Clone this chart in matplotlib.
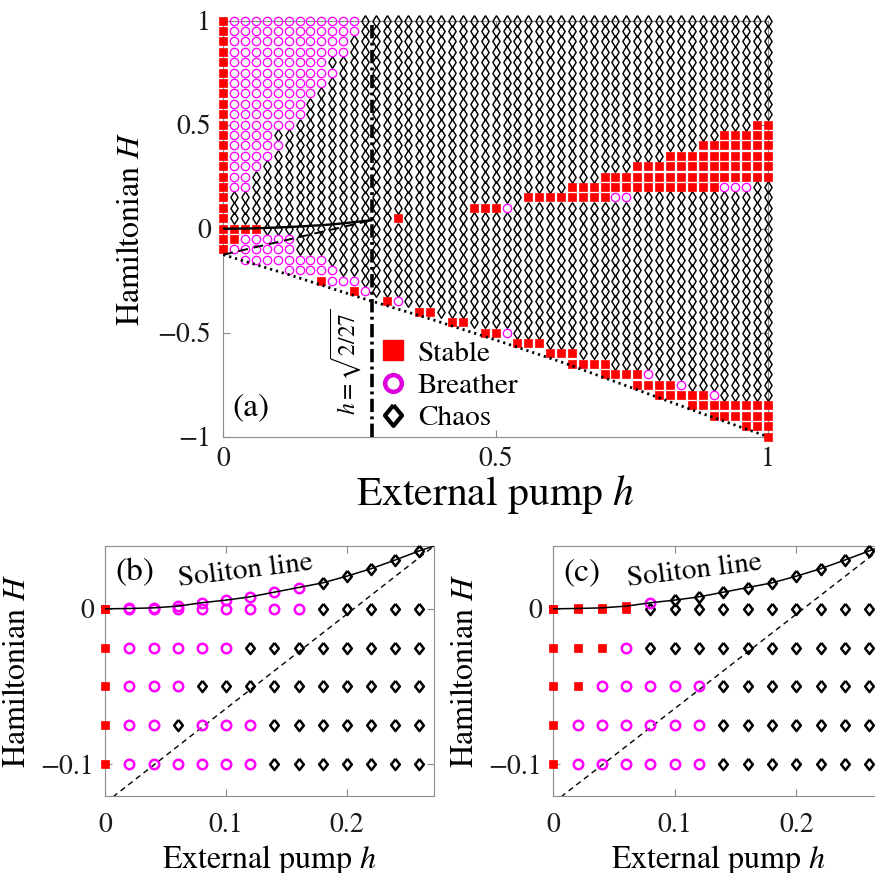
import numpy as np
import matplotlib.pyplot as plt
from matplotlib.lines import Line2D

plt.rcParams['font.family'] = 'STIXGeneral'
plt.rcParams['mathtext.fontset'] = 'stix'

# ---- panel (a): scan over pump h (step 0.02) and Hamiltonian H (step 0.05, top row first)
h_a = np.arange(51) * 0.02
H_a = 1 - np.arange(41) * 0.05

# run-length coded state along each row: S stable, B breather, C chaos, . not reached
rows_a = [
    "S1 B12 C38",            # H = 1
    "S1 B12 C38",
    "S1 B11 C39",
    "S1 B11 C39",
    "S1 B9 C41",             # 0.8
    "S1 B10 C40",
    "S1 B9 C41",
    "S1 B8 C42",
    "S1 B7 C43",             # 0.6
    "S1 B7 C43",
    "S1 B6 C42 S2",          # 0.5
    "S1 B4 C41 S5",
    "S1 B5 C38 S7",          # 0.4
    "S1 B4 C36 S10",
    "S1 B3 C34 S13",         # 0.3
    "S1 B2 C32 S16",
    "S1 B2 C29 S14 B3 C2",   # 0.2
    "S1 C27 S8 B2 C13",
    "S1 C22 S3 B1 C24",      # 0.1
    "S1 C15 S1 C34",
    "S4 C47",                # 0
    "S2 B5 C44",
    "S1 B6 C44",             # -0.1
    ".2 B8 C41",
    ".6 B5 C40",             # -0.2
    ".9 S1 B3 C38",
    ".12 S1 B1 C37",         # -0.3
    ".15 S1 B1 C34",
    ".18 S2 C31",            # -0.4
    ".21 S2 C28",
    ".24 S2 B1 C24",         # -0.5
    ".27 S3 C21",
    ".30 S3 C18",            # -0.6
    ".32 S4 C15",
    ".35 S4 B1 C11",         # -0.7
    ".38 S4 B1 C8",
    ".40 S5 B1 C5",          # -0.8
    ".43 S8",
    ".45 S6",                # -0.9
    ".48 S3",
    ".50 S1",                # -1
]

# lower edge of the accessible region
bound_h = [0, 0.125, 0.25, 0.375, 0.5, 0.625, 0.75, 0.875, 1.0]
bound_H = [-0.125, -0.225, -0.33, -0.43, -0.535, -0.645, -0.765, -0.885, -1.0]

# soliton line H_s(h) up to h = sqrt(2/27)
sol_h = [0, 0.02, 0.04, 0.06, 0.08, 0.10, 0.12, 0.14, 0.16, 0.18, 0.20, 0.22, 0.24, 0.26, 0.2722]
sol_H = [0, 0.0002, 0.0006, 0.0017, 0.0039, 0.0056, 0.0077, 0.0107, 0.0137, 0.0167,
         0.0210, 0.0258, 0.0314, 0.0373, 0.0404]

# straight dashed guide from the lower edge to the end of the soliton line
dash_h = [0, 0.2722]
dash_H = [-0.125, 0.0404]

# ---- panels (b) and (c): finer scan near the soliton line
h_z = np.arange(14) * 0.02
H_z = [0, -0.025, -0.05, -0.075, -0.1]
rows_b = ["S1 B8 C5", "S1 B5 C8", "S1 B3 C10", "S1 B2 C1 B3 C7", "S1 B6 C7"]
sol_b = "S1 B8 C5"
rows_c = ["S4 C10", "S3 B1 C10", "S2 B5 C7", "S1 B6 C7", "S1 B6 C7"]
sol_c = "S4 B1 C9"

h_crit = np.sqrt(2 / 27)


def decode(code):
    return ''.join(tok[0] * int(tok[1:]) for tok in code.split())


tall_diamond = [(0, 1), (0.62, 0), (0, -1), (-0.62, 0), (0, 1)]
mid_diamond = [(0, 1), (0.78, 0), (0, -1), (-0.78, 0), (0, 1)]
wide_diamond = [(0, 1), (0.82, 0), (0, -1), (-0.82, 0), (0, 1)]
MAG = '#ff00ff'


def draw_points(ax, hs, Hs, states, big):
    if big:
        sty = {'S': dict(marker='s', ms=5.6, mfc='red', mec='red', mew=0.5),
               'B': dict(marker='o', ms=6.0, mfc='none', mec=MAG, mew=0.95),
               'C': dict(marker=tall_diamond, ms=8.4, mfc='none', mec='k', mew=1.05)}
    else:
        sty = {'S': dict(marker='s', ms=5.3, mfc='red', mec='red', mew=0.5),
               'B': dict(marker='o', ms=6.8, mfc='none', mec=MAG, mew=1.8),
               'C': dict(marker=mid_diamond, ms=8.0, mfc='none', mec='k', mew=1.8)}
    for key in 'CBS':
        sel = [i for i, s in enumerate(states) if s == key]
        if sel:
            ax.plot([hs[i] for i in sel], [Hs[i] for i in sel], ls='none',
                    clip_on=False, zorder=3, **sty[key])


def style(ax, labelsize=20):
    for s in ax.spines.values():
        s.set_color('0.55')
        s.set_linewidth(0.8)
    ax.tick_params(direction='in', top=True, right=True, length=5, width=0.8,
                   color='0.55', labelsize=labelsize, labelcolor='0.1')


fig = plt.figure(figsize=(8.75, 8.73), dpi=100)

# ---- (a)
ax = fig.add_axes([0.2552, 0.4998, 0.6225, 0.4765])
pts_h, pts_H, pts_s = [], [], []
for Hrow, code in zip(H_a, rows_a):
    for hv, st in zip(h_a, decode(code)):
        if st != '.':
            pts_h.append(hv)
            pts_H.append(Hrow)
            pts_s.append(st)
draw_points(ax, pts_h, pts_H, pts_s, big=True)

ax.plot(bound_h, bound_H, color='k', lw=2.0, ls=(0, (0.8, 1.4)), zorder=4)
ax.plot(sol_h, sol_H, color='k', lw=1.7, zorder=4)
ax.plot(dash_h, dash_H, color='k', lw=1.4, ls=(0, (5, 3)), zorder=4)
ax.plot([h_crit, h_crit], [-1, 1], color='k', lw=2.6,
        ls=(0, (3.7, 1.2, 0.8, 1.2)), zorder=5, clip_on=False)

ax.set_xlim(0, 1)
ax.set_ylim(-1, 1)
ax.set_xticks([0, 0.5, 1])
ax.set_xticklabels(['0', '0.5', '1'])
ax.set_yticks([-1, -0.5, 0, 0.5, 1])
ax.set_yticklabels(['\u22121', '\u22120.5', '0', '0.5', '1'])
style(ax)
ax.tick_params(axis='y', pad=9)
ax.tick_params(axis='x', pad=7)
ax.set_xlabel('External pump $h$', fontsize=30, labelpad=1)
ax.set_ylabel('Hamiltonian $H$', fontsize=23, labelpad=8)
ax.text(0.017, -0.86, '(a)', fontsize=24, va='center', ha='left')
ax.text(0.225, -0.64, r'$h=\sqrt{2/27}$', fontsize=17, rotation=90,
        va='center', ha='center')

handles = [Line2D([], [], ls='none', marker='s', ms=14, mfc='red', mec='red'),
           Line2D([], [], ls='none', marker='o', ms=12, mfc='none', mec='#dd00dd', mew=3.2),
           Line2D([], [], ls='none', marker=wide_diamond, ms=15, mfc='none', mec='k', mew=3)]
ax.legend(handles, ['Stable', 'Breather', 'Chaos'], loc='upper left',
          bbox_to_anchor=(0.285, 0.232), frameon=False, fontsize=21,
          handlelength=1.0, handletextpad=0.35, labelspacing=0.2,
          borderpad=0, borderaxespad=0)


# ---- (b) and (c)
def zoom_panel(rect, rows, sol_states, tag):
    axz = fig.add_axes(rect)
    ph, pH, ps = [], [], []
    for Hrow, code in zip(H_z, rows):
        for hv, st in zip(h_z, decode(code)):
            ph.append(hv)
            pH.append(Hrow)
            ps.append(st)
    draw_points(axz, ph, pH, ps, big=False)
    draw_points(axz, list(h_z), sol_H[:len(h_z)], decode(sol_states), big=False)
    axz.plot(sol_h, sol_H, color='k', lw=1.1, zorder=4)
    axz.plot(dash_h, dash_H, color='k', lw=1.0, ls=(0, (4, 3)), zorder=2)
    axz.set_xlim(0, h_crit)
    axz.set_ylim(-0.1204, 0.0404)
    axz.set_xticks([0, 0.1, 0.2])
    axz.set_xticklabels(['0', '0.1', '0.2'])
    axz.set_yticks([-0.1, 0])
    axz.set_yticklabels(['\u22120.1', '0'])
    style(axz)
    axz.tick_params(axis='y', pad=8)
    axz.tick_params(axis='x', pad=12)
    axz.set_xlabel('External pump $h$', fontsize=23, labelpad=4)
    axz.set_ylabel('Hamiltonian $H$', fontsize=23, labelpad=6)
    axz.text(0.008, 0.0236, tag, fontsize=24, va='center', ha='left')
    axz.text(0.116, 0.024, 'Soliton line', fontsize=21, rotation=7,
             va='center', ha='center')
    return axz


zoom_panel([0.1203, 0.0885, 0.3757, 0.286], rows_b, sol_b, '(b)')
zoom_panel([0.6323, 0.0885, 0.378, 0.286], rows_c, sol_c, '(c)')

fig.savefig('out.png', dpi=100)
